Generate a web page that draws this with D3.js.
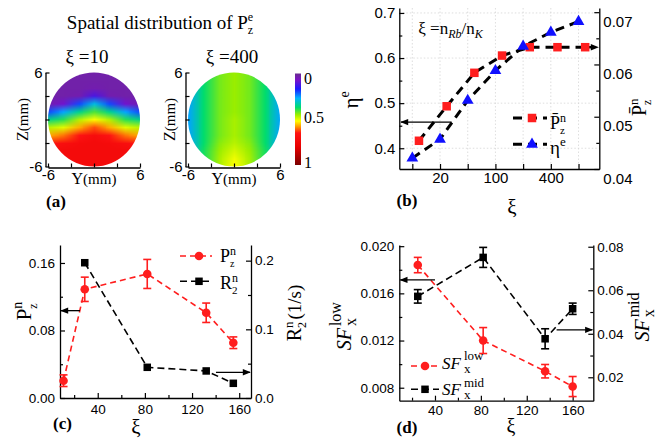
<!DOCTYPE html>
<html>
<head>
<meta charset="utf-8">
<script src="https://cdnjs.cloudflare.com/ajax/libs/d3/7.8.5/d3.min.js"></script>
<style>
body { margin: 0; background: #fff; }
svg { display: block; }
</style>
</head>
<body>
<svg id="figure" width="662" height="438"></svg>
<script>
const SERIF = '"Liberation Serif","Times New Roman",serif';
const SANS = '"Liberation Sans",Arial,sans-serif';

// ---- (a) spatial maps of P_z^e, rows z = 6..-6, columns Y = -6..6
const mapY = [-6, -4, -2, 0, 2, 4, 6];
const mapZ = [6, 5, 4, 3, 2, 1, 0, -1, -2, -3, -4, -5, -6];
const map10 = [
    [.03, .03, .03, .03, .03, .03, .03],
    [.03, .03, .03, .03, .03, .03, .03],
    [.03, .03, .03, .04, .03, .03, .03],
    [.03, .03, .04, .12, .04, .03, .03],
    [.04, .08, .20, .29, .20, .08, .04],
    [.20, .26, .35, .41, .35, .26, .20],
    [.35, .39, .47, .52, .47, .39, .35],
    [.47, .50, .57, .62, .57, .50, .47],
    [.57, .60, .66, .70, .66, .60, .57],
    [.66, .69, .71, .72, .71, .69, .66],
    [.71, .72, .72, .72, .72, .72, .71],
    [.72, .72, .72, .72, .72, .72, .72],
    [.72, .72, .72, .72, .72, .72, .72]
];
const map400 = [
    [.26, .37, .43, .45, .43, .37, .26],
    [.26, .37, .43, .45, .43, .37, .26],
    [.26, .37, .43, .45, .43, .37, .26],
    [.26, .37, .43, .45, .43, .37, .26],
    [.26, .37, .43, .45, .43, .37, .26],
    [.26, .37, .43, .45, .43, .37, .26],
    [.26, .37, .43, .46, .43, .37, .26],
    [.26, .37, .43, .46, .43, .37, .26],
    [.26, .37, .43, .46, .43, .37, .26],
    [.26, .37, .44, .47, .44, .37, .26],
    [.26, .38, .45, .49, .45, .38, .26],
    [.26, .38, .46, .51, .46, .38, .26],
    [.26, .38, .46, .52, .46, .38, .26]
];
const cmapStops = [0, 0.07, 0.17, 0.27, 0.37, 0.45, 0.52, 0.58, 0.65, 0.8, 1];
const cmapColors = ["#6a2c91", "#7a12c8", "#1a1aff", "#00b4ff", "#00dc6e", "#9aee00",
    "#ffff00", "#ff9a00", "#ff1414", "#e80000", "#7a0000"];
const cbLabels = [0, 0.5, 1];

// ---- (b) eta^e and mean P_z^n versus xi
const bXi = [10, 20, 50, 100, 200, 400, 1000];
const bTickLabels = ["", "20", "", "100", "", "400", ""];
const bEta = [0.378, 0.420, 0.506, 0.572, 0.626, 0.657, 0.681];
const bPz = [0.0454, 0.0520, 0.0584, 0.0617, 0.0633, 0.0633, 0.0633];
const sqOffset = 0.24;

// ---- (c) P_z^n and R_2^n versus xi
const cXi = [11, 29, 82, 132, 155];
const cP = [0.0205, 0.1288, 0.147, 0.101, 0.0655];
const cPerr = [0.0069, 0.0144, 0.0172, 0.0115, 0.0069];
const cRXi = [29, 82, 132, 155];
const cR = [0.197, 0.0447, 0.0394, 0.0214];

// ---- (d) SF_x^low and SF_x^mid versus xi
const dXi = [25, 82, 136, 160];
const dLow = [0.0184, 0.0120, 0.0094, 0.0081];
const dLowErr = [0.00065, 0.0011, 0.00057, 0.00085];
const dMid = [0.0572, 0.0751, 0.0377, 0.0515];
const dMidErr = [0.0031, 0.0046, 0.0046, 0.0026];

const RED = "#ff1e1e";
const BLUE = "#1010ff";

const svg = d3.select("#figure");
svg.append("rect").attr("width", 662).attr("height", 438).attr("fill", "#fff");

const defs = svg.append("defs");
defs.append("marker")
    .attr("id", "arrow")
    .attr("viewBox", "0 0 10 10")
    .attr("refX", 9).attr("refY", 5)
    .attr("markerUnits", "userSpaceOnUse")
    .attr("markerWidth", 10).attr("markerHeight", 8)
    .attr("orient", "auto")
    .append("path").attr("d", "M0,1L10,5L0,9Z").attr("fill", "#000");

// text built from pieces (sub/superscripts), centred on x,y
function rich(parent, parts, x, y, opt = {}) {
    const outer = parent.append("g");
    const g = outer.append("g");
    let cx = 0, held = 0;
    parts.forEach(p => {
        const t = g.append("text")
            .attr("x", cx).attr("y", p.dy || 0)
            .attr("font-family", p.sans ? SANS : SERIF)
            .attr("font-size", p.size)
            .attr("font-style", p.it ? "italic" : null)
            .attr("font-weight", p.bold ? "bold" : null)
            .attr("fill", "#000")
            .text(p.t);
        const w = t.node().getComputedTextLength();
        if (p.hold) {
            held = w;
        } else {
            cx += Math.max(w, held) + (p.gap || 0);
            held = 0;
        }
    });
    const bb = g.node().getBBox();
    const dx = opt.anchor === "start" ? -bb.x : -(bb.x + bb.width / 2);
    g.attr("transform", `translate(${dx},${-(bb.y + bb.height / 2)})`);
    outer.attr("transform", `translate(${x},${y}) rotate(${opt.rotate || 0})`);
    return outer;
}

function styleAxis(g, size) {
    g.selectAll(".domain").attr("stroke", "#000").attr("stroke-width", 1.3);
    g.selectAll(".tick line").attr("stroke", "#000").attr("stroke-width", 1.2);
    g.selectAll(".tick text").attr("font-family", SANS).attr("font-size", size).attr("fill", "#000");
}

function drawAxis(parent, axisFn, scale, transform, major, minor, fmt, size, pad) {
    const gMin = parent.append("g").attr("transform", transform)
        .call(axisFn(scale).tickValues(minor).tickSizeInner(-3).tickSizeOuter(0).tickFormat(""));
    gMin.select(".domain").remove();
    styleAxis(gMin, size);
    const g = parent.append("g").attr("transform", transform)
        .call(axisFn(scale).tickValues(major).tickSizeInner(-5).tickSizeOuter(0).tickPadding(pad).tickFormat(fmt));
    styleAxis(g, size);
    return g;
}

function arrow(parent, x1, y1, x2, y2, dash, width) {
    parent.append("line")
        .attr("x1", x1).attr("y1", y1).attr("x2", x2).attr("y2", y2)
        .attr("stroke", "#000").attr("stroke-width", width || 1.3)
        .attr("stroke-dasharray", dash || null)
        .attr("marker-end", "url(#arrow)");
}

function errorBars(parent, xs, vals, errs, scaleX, scaleY, color) {
    const g = parent.append("g").attr("stroke", color).attr("stroke-width", 1.6);
    vals.forEach((v, i) => {
        const x = scaleX(xs[i]), y0 = scaleY(v - errs[i]), y1 = scaleY(v + errs[i]);
        g.append("line").attr("x1", x).attr("x2", x).attr("y1", y0).attr("y2", y1);
        g.append("line").attr("x1", x - 4).attr("x2", x + 4).attr("y1", y0).attr("y2", y0);
        g.append("line").attr("x1", x - 4).attr("x2", x + 4).attr("y1", y1).attr("y2", y1);
    });
}

function squares(parent, pts, size, color) {
    parent.append("g").selectAll("rect").data(pts).join("rect")
        .attr("x", d => d[0] - size / 2).attr("y", d => d[1] - size / 2)
        .attr("width", size).attr("height", size).attr("fill", color);
}

function circles(parent, pts, r, color) {
    parent.append("g").selectAll("circle").data(pts).join("circle")
        .attr("cx", d => d[0]).attr("cy", d => d[1]).attr("r", r).attr("fill", color);
}

function dashed(parent, pts, color, width, dash) {
    parent.append("path").attr("d", d3.line()(pts))
        .attr("fill", "none").attr("stroke", color)
        .attr("stroke-width", width).attr("stroke-dasharray", dash);
}

// ================= (a)
const cmap = d3.scaleLinear().domain(cmapStops).range(cmapColors).clamp(true);
const ga = svg.append("g");
const zs = d3.scaleLinear([6, -6], [72.5, 166.5]);

function drawMap(grid, xs, id, labelX) {
    const canvas = document.createElement("canvas");
    canvas.width = mapY.length;
    canvas.height = mapZ.length;
    const ctx = canvas.getContext("2d");
    grid.forEach((row, j) => row.forEach((v, i) => {
        ctx.fillStyle = cmap(v);
        ctx.fillRect(i, j, 1, 1);
    }));
    defs.append("clipPath").attr("id", id).append("ellipse")
        .attr("cx", xs(0)).attr("cy", zs(0))
        .attr("rx", xs(6) - xs(0)).attr("ry", zs(-6) - zs(0));
    ga.append("image")
        .attr("href", canvas.toDataURL())
        .attr("x", xs(-7)).attr("y", zs(6.5))
        .attr("width", xs(7) - xs(-7)).attr("height", zs(-6.5) - zs(6.5))
        .attr("preserveAspectRatio", "none")
        .attr("clip-path", `url(#${id})`);

    const fmt = d => Math.abs(d) === 6 ? String(d) : "";
    const gl = ga.append("g").attr("transform", `translate(${xs(-6) - 2.5},0)`)
        .call(d3.axisLeft(zs).tickValues([-6, -3, 0, 3, 6]).tickSizeInner(-4).tickSizeOuter(0).tickPadding(3).tickFormat(fmt));
    styleAxis(gl, 15);
    const gbt = ga.append("g").attr("transform", `translate(0,${zs(-6) + 1})`)
        .call(d3.axisBottom(xs).tickValues([-6, -3, 0, 3, 6]).tickSizeInner(-4).tickSizeOuter(0).tickPadding(2).tickFormat(fmt));
    styleAxis(gbt, 15);

    rich(ga, [{t: "Y", size: 16}, {t: "(mm)", size: 15}], xs(0), 179);
    rich(ga, [{t: "Z", size: 16}, {t: "(mm)", size: 15}], labelX, zs(0), {rotate: -90});
}

const xs10 = d3.scaleLinear([-6, 6], [48, 140]);
const xs400 = d3.scaleLinear([-6, 6], [188, 280]);
drawMap(map10, xs10, "clip10", 23);
drawMap(map400, xs400, "clip400", 170);

rich(ga, [{t: "Spatial distribution of P", size: 19}, {t: "e", size: 12, dy: -8, hold: true}, {t: "z", size: 12, dy: 5}], 160, 23);
rich(ga, [{t: "ξ =10", size: 19}], 87, 56);
rich(ga, [{t: "ξ =400", size: 19}], 232, 56);

// colour bar
const cb = d3.scaleLinear([0, 1], [73.5, 165]);
const grad = defs.append("linearGradient").attr("id", "cbar")
    .attr("x1", 0).attr("y1", 0).attr("x2", 0).attr("y2", 1);
cmapStops.forEach((s, i) => grad.append("stop").attr("offset", s).attr("stop-color", cmapColors[i]));
ga.append("rect").attr("x", 295).attr("y", cb(0)).attr("width", 6).attr("height", cb(1) - cb(0)).attr("fill", "url(#cbar)");
ga.append("g").selectAll("text").data(cbLabels).join("text")
    .attr("x", 304).attr("y", d => cb(d))
    .attr("dominant-baseline", d => d === 0 ? "hanging" : d === 1 ? "auto" : "middle")
    .attr("dy", d => d === 0 ? -1 : d === 1 ? 3 : 0)
    .attr("font-family", SERIF).attr("font-size", 16)
    .text(d => String(d));

rich(ga, [{t: "(a)", size: 17, bold: true}], 56, 201);

// ================= (b)
const gb = svg.append("g");
const bIdx = bXi.map((d, i) => i);
const xb = d3.scaleLinear([-0.47, 6.75], [399.3, 599.3]);
const ybL = d3.scaleLinear([0.354, 0.711], [169, 8]);
const ybR = d3.scaleLinear([0.04, 0.0708], [169, 8]);

const grid = gb.append("g").attr("stroke", "#d6d6d6").attr("stroke-width", 0.8).attr("stroke-dasharray", "1.5,2");
bIdx.forEach(i => grid.append("line").attr("x1", xb(i)).attr("x2", xb(i)).attr("y1", 8).attr("y2", 169));
[0.4, 0.5, 0.6, 0.7].forEach(v => grid.append("line").attr("x1", 399.3).attr("x2", 599.3).attr("y1", ybL(v)).attr("y2", ybL(v)));

drawAxis(gb, d3.axisLeft, ybL, "translate(399.3,0)", [0.4, 0.5, 0.6, 0.7], [0.45, 0.55, 0.65], d3.format(".1f"), 15, 4);
const gbR = drawAxis(gb, d3.axisRight, ybR, "translate(599.3,0)", [0.04, 0.05, 0.06, 0.07], [0.045, 0.055, 0.065], d3.format(".2f"), 15, 4);
gbR.selectAll(".tick text").attr("dy", "0.95em");
drawAxis(gb, d3.axisBottom, xb, "translate(0,169)", bIdx, [], i => bTickLabels[i], 15, 3);

dashed(gb, bEta.map((v, i) => [xb(i), ybL(v)]), "#000", 3, "9,6");
dashed(gb, bPz.map((v, i) => [xb(i + sqOffset), ybR(v)]), "#000", 3, "9,6");
arrow(gb, xb(6 + sqOffset), ybR(bPz[6]), 598, ybR(bPz[6]), "9,6", 2.5);
squares(gb, bPz.map((v, i) => [xb(i + sqOffset), ybR(v)]), 8.5, RED);
gb.append("g").selectAll("path").data(bEta).join("path")
    .attr("transform", (v, i) => `translate(${xb(i)},${ybL(v)})`)
    .attr("d", d3.symbol(d3.symbolTriangle, 60))
    .attr("fill", BLUE);
arrow(gb, xb(1.42), ybL(0.458), 401, ybL(0.458));

// legend
dashed(gb, [[513, 118], [547, 118]], "#000", 3, "9,6");
squares(gb, [[532, 118]], 8.5, RED);
dashed(gb, [[513, 144.3], [547, 144.3]], "#000", 3, "9,6");
gb.append("path").attr("transform", "translate(532,144.3)").attr("d", d3.symbol(d3.symbolTriangle, 60)).attr("fill", BLUE);
rich(gb, [{t: "P\u0304", size: 18}, {t: "n", size: 12, dy: -7, hold: true}, {t: "z", size: 11, dy: 5}], 550, 123, {anchor: "start"});
rich(gb, [{t: "η", size: 19}, {t: "e", size: 13, dy: -8}], 550, 146, {anchor: "start"});

rich(gb, [{t: "ξ =n", size: 17}, {t: "Rb", size: 12, dy: 4, it: true}, {t: "/n", size: 17}, {t: "K", size: 12, dy: 4, it: true}], 451, 30);
rich(gb, [{t: "η", size: 21}, {t: "e", size: 14, dy: -9}], 350, 100, {rotate: -90});
rich(gb, [{t: "P\u0304", size: 20}, {t: "n", size: 13, dy: -8, hold: true}, {t: "z", size: 12, dy: 5}], 640, 107, {rotate: -90});
rich(gb, [{t: "ξ", size: 21}], 512, 207);
rich(gb, [{t: "(b)", size: 17, bold: true}], 407, 200);

// ================= (c)
const gc = svg.append("g");
const xc = d3.scaleLinear([8, 170], [60, 251]);
const ycL = d3.scaleLinear([0, 0.1813], [398, 245]);
const ycR = d3.scaleLinear([0, 0.2228], [398, 245]);

drawAxis(gc, d3.axisLeft, ycL, "translate(60,0)", [0, 0.08, 0.16], [0.04, 0.12], d3.format(".2f"), 13.5, 5);
drawAxis(gc, d3.axisRight, ycR, "translate(251,0)", [0, 0.1, 0.2], [0.05, 0.15], d3.format(".1f"), 13.5, 4);
drawAxis(gc, d3.axisBottom, xc, "translate(0,398)", [40, 80, 120, 160], [20, 60, 100, 140], d3.format("d"), 13.5, 6);

dashed(gc, cR.map((v, i) => [xc(cRXi[i]), ycR(v)]), "#000", 1.6, "7,4");
dashed(gc, cP.map((v, i) => [xc(cXi[i]), ycL(v)]), RED, 1.6, "6,4");
errorBars(gc, cXi, cP, cPerr, xc, ycL, RED);
circles(gc, cP.map((v, i) => [xc(cXi[i]), ycL(v)]), 4.3, RED);
squares(gc, cR.map((v, i) => [xc(cRXi[i]), ycR(v)]), 7.5, "#000");
arrow(gc, xc(25), ycL(0.1035), xc(8) + 1, ycL(0.1035));
arrow(gc, xc(140.3), ycR(0.0374), xc(170) - 1, ycR(0.0374));

dashed(gc, [[180, 256], [212, 256]], RED, 1.6, "6,4");
circles(gc, [[199, 256]], 4.3, RED);
dashed(gc, [[180, 281.3], [212, 281.3]], "#000", 1.6, "7,4");
squares(gc, [[199, 281.3]], 7.5, "#000");
rich(gc, [{t: "P", size: 18}, {t: "n", size: 12, dy: -7, hold: true}, {t: "z", size: 10, dy: 5}], 220, 256.7, {anchor: "start"});
rich(gc, [{t: "R", size: 18}, {t: "n", size: 12, dy: -7, hold: true}, {t: "2", size: 11, dy: 5}], 220, 283, {anchor: "start"});

rich(gc, [{t: "P", size: 21}, {t: "n", size: 14, dy: -9, hold: true}, {t: "z", size: 12, dy: 6}], 25, 311, {rotate: -90});
rich(gc, [{t: "R", size: 20}, {t: "n", size: 13, dy: -8, hold: true}, {t: "2", size: 12, dy: 5, gap: 2}, {t: "(1/s)", size: 19}], 295, 313, {rotate: -90});
rich(gc, [{t: "ξ", size: 21}], 136, 427);
rich(gc, [{t: "(c)", size: 17, bold: true}], 62.5, 423);

// ================= (d)
const gd = svg.append("g");
const xd = d3.scaleLinear([8.9, 178], [399.3, 593.3]);
const yd = d3.scaleLinear([0.0069, 0.0201], [400.7, 245]);
const ydR = d3.scaleLinear([0.00924, 0.0808], [400.7, 245]);

drawAxis(gd, d3.axisLeft, yd, "translate(399.3,0)", [0.008, 0.012, 0.016, 0.020], [0.010, 0.014, 0.018], d3.format(".3f"), 13.5, 5);
drawAxis(gd, d3.axisRight, ydR, "translate(593.3,0)", [0.02, 0.04, 0.06, 0.08], [0.03, 0.05, 0.07], d3.format(".2f"), 13.5, 4);
drawAxis(gd, d3.axisBottom, xd, "translate(0,400.7)", [40, 80, 120, 160], [20, 60, 100, 140], d3.format("d"), 13.5, 5);

dashed(gd, dMid.map((v, i) => [xd(dXi[i]), ydR(v)]), "#000", 1.6, "7,4");
dashed(gd, dLow.map((v, i) => [xd(dXi[i]), yd(v)]), RED, 1.6, "6,4");
errorBars(gd, dXi, dMid, dMidErr, xd, ydR, "#000");
errorBars(gd, dXi, dLow, dLowErr, xd, yd, RED);
squares(gd, dMid.map((v, i) => [xd(dXi[i]), ydR(v)]), 7.5, "#000");
circles(gd, dLow.map((v, i) => [xd(dXi[i]), yd(v)]), 4.3, RED);
arrow(gd, xd(40), yd(0.01714), xd(8.9) + 1, yd(0.01714));
arrow(gd, xd(146), ydR(0.0418), xd(178) - 1, ydR(0.0418));

dashed(gd, [[411, 366], [439, 366]], RED, 1.6, "6,4");
circles(gd, [[425, 366]], 4.3, RED);
dashed(gd, [[411, 389.3], [439, 389.3]], "#000", 1.6, "7,4");
squares(gd, [[425, 389.3]], 7.5, "#000");
rich(gd, [{t: "SF", size: 17, it: true, gap: 3}, {t: "low", size: 13, dy: -9, hold: true}, {t: "x", size: 13, dy: 4}], 442, 362, {anchor: "start"});
rich(gd, [{t: "SF", size: 17, it: true, gap: 3}, {t: "mid", size: 13, dy: -8, hold: true}, {t: "x", size: 13, dy: 4}], 442, 388, {anchor: "start"});

rich(gd, [{t: "SF", size: 20, it: true, gap: 2}, {t: "low", size: 16, dy: -10, hold: true}, {t: "x", size: 16, dy: 5}], 343, 326, {rotate: -90});
rich(gd, [{t: "SF", size: 20, it: true, gap: 2}, {t: "mid", size: 16, dy: -10, hold: true}, {t: "x", size: 16, dy: 5}], 641, 317, {rotate: -90});
rich(gd, [{t: "ξ", size: 20}], 511, 426);
rich(gd, [{t: "(d)", size: 17, bold: true}], 407, 427);
</script>
</body>
</html>
